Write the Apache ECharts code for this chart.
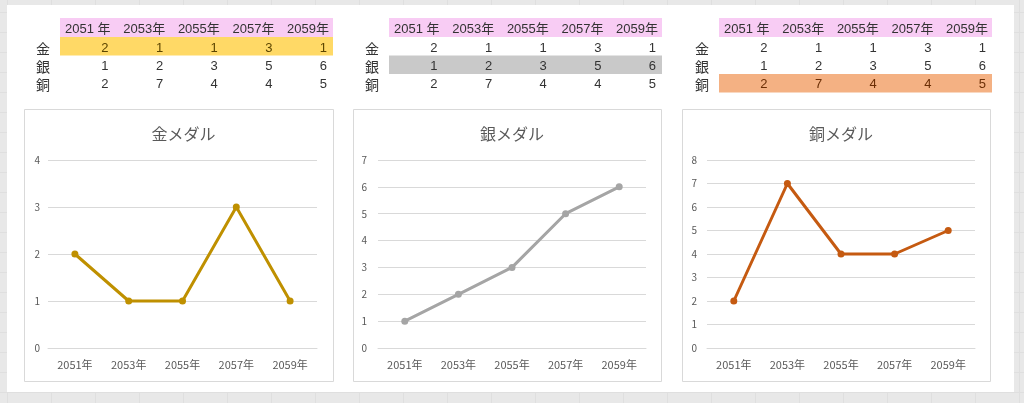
<!DOCTYPE html>
<html><head><meta charset="utf-8">
<script src="https://cdn.jsdelivr.net/npm/echarts@6/dist/echarts.min.js"></script>
<style>
html,body{margin:0;padding:0;width:1024px;height:403px;overflow:hidden;
background-color:#e8e8e8;
background-image:linear-gradient(to right,#dfdfdf 1px,transparent 1px),linear-gradient(to bottom,#dfdfdf 1px,transparent 1px);
background-size:44px 100%,100% 20px;background-position:7px 0,0 12px;}
#panel{position:absolute;left:7px;top:5px;width:1007px;height:387px;background:#fff;}
#chart{position:absolute;left:0;top:0;width:1024px;height:403px;}
</style></head><body><div id="panel"></div><div id="chart"></div>
<script>
const categories = ['2051年','2053年','2055年','2057年','2059年'];
const headerLabels = ['2051 年','2053年','2055年','2057年','2059年'];
const medalNames = ['金','銀','銅'];
const gold = [2,1,1,3,1];
const silver = [1,2,3,5,6];
const bronze = [2,7,4,4,5];
const titles = ['金メダル','銀メダル','銅メダル'];
const yMaxes = [4,7,8];

const seriesData = [gold, silver, bronze];
const lineColors = ['#BF9000','#A5A5A5','#C55A11'];
const rowFills = ['#FFD966','#C9C9C9','#F4B183'];
const rowText = ['#5c4500','#333333','#6b2e05'];
const FONT = '"Noto Sans CJK JP","Noto Sans",sans-serif';
const NUMFONT = '"Liberation Sans","Noto Sans CJK JP",sans-serif';

const tableX = [60, 389, 719];
const labelX = [43, 372, 702];
const colW = 54.6;
const rowTop = [18, 37, 55.5, 74];
const rowH = [19, 18.5, 18.5, 18.5];
const rowMid = [29.5, 48.5, 66.5, 84.5];

const boxes = [[24,109,309,272],[353,109,308,272],[682,109,308,272]];
const grids = [
  {left:48, right:707, top:160, bottom:55},
  {left:378, right:378, top:160, bottom:55},
  {left:707, right:49, top:160, bottom:55}
];
const yLabelMargin = [8, 11, 10];

const graphics = [];
boxes.forEach(b => graphics.push({type:'rect', z:-10, shape:{x:b[0]+0.5,y:b[1]+0.5,width:b[2],height:b[3]}, style:{fill:'#fff', stroke:'#d9d9d9', lineWidth:1}}));
for (let t=0;t<3;t++){
  const x0 = tableX[t];
  graphics.push({type:'rect', z:-5, shape:{x:x0,y:rowTop[0],width:colW*5,height:rowH[0]}, style:{fill:'#F8CCF4'}});
  graphics.push({type:'rect', z:-5, shape:{x:x0,y:rowTop[t+1],width:colW*5,height:rowH[t+1]}, style:{fill:rowFills[t]}});
  headerLabels.forEach((h,i)=>graphics.push({type:'text', style:{text:h, x:x0+colW*(i+1)-4, y:rowMid[0], align:'right', verticalAlign:'middle', font:'13px '+NUMFONT, fill:'#333'}}));
  medalNames.forEach((m,r)=>{
    graphics.push({type:'text', style:{text:m, x:labelX[t], y:rowMid[r+1], align:'center', verticalAlign:'middle', font:'14px '+FONT, fill:'#333'}});
    seriesData[r].forEach((v,i)=>graphics.push({type:'text', style:{text:String(v), x:x0+colW*(i+1)-6, y:rowMid[r+1], align:'right', verticalAlign:'middle', font:'13px '+NUMFONT, fill: r===t ? rowText[t] : '#333'}}));
  });
}

const option = {
  animation:false,
  textStyle:{fontFamily:FONT},
  graphic:graphics,
  title: titles.map((s,i)=>({text:s, left: boxes[i][0]+boxes[i][2]/2, top:121, textAlign:'center', textStyle:{fontSize:16, fontWeight:'normal', color:'#595959', fontFamily:FONT}})),
  grid: grids,
  xAxis: grids.map((g,i)=>({type:'category', gridIndex:i, data:categories, boundaryGap:true,
    axisLine:{show:true, lineStyle:{color:'#d9d9d9'}}, axisTick:{show:false},
    axisLabel:{color:'#595959', fontSize:11, margin:11, fontFamily:FONT}})),
  yAxis: grids.map((g,i)=>({type:'value', gridIndex:i, min:0, max:yMaxes[i], interval:1,
    axisLine:{show:false}, axisTick:{show:false},
    axisLabel:{color:'#595959', fontSize:10, margin:yLabelMargin[i], fontFamily:FONT},
    splitLine:{lineStyle:{color:'#d9d9d9'}}})),
  series: seriesData.map((d,i)=>({type:'line', xAxisIndex:i, yAxisIndex:i, data:d,
    symbol:'circle', symbolSize:7, lineStyle:{color:lineColors[i], width:3},
    itemStyle:{color:lineColors[i]}}))
};
const chart = echarts.init(document.getElementById('chart'), null, {renderer:'canvas'});
chart.setOption(option);
</script></body></html>
